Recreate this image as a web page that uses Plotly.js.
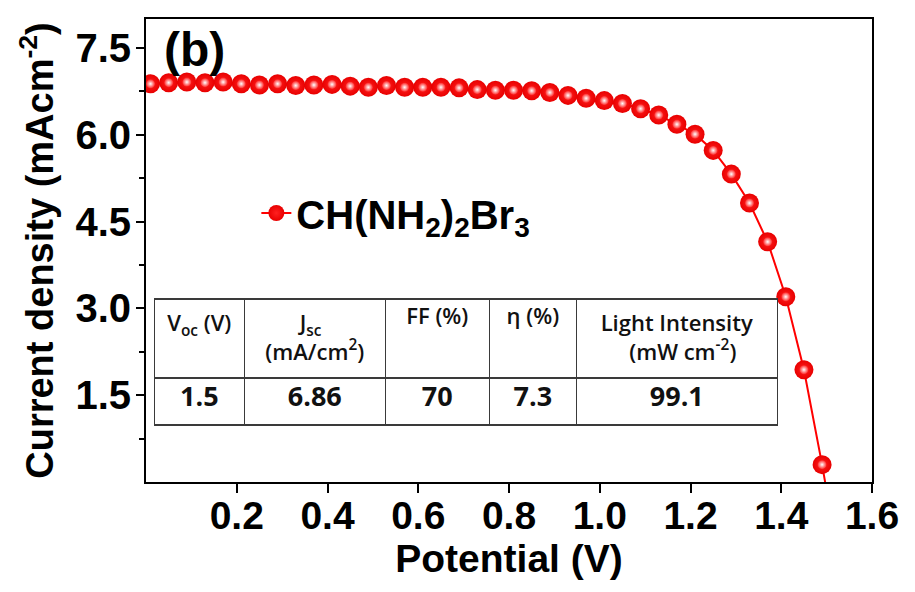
<!DOCTYPE html>
<html>
<head>
<meta charset="utf-8">
<script src="https://cdn.plot.ly/plotly-3.0.1.min.js"></script>
<style>html,body{margin:0;padding:0;background:#fff;}#chart{width:915px;height:592px;}</style>
</head>
<body>
<div id="chart"></div>
<script>
// Data
const potential = [0.01,0.05,0.09,0.13,0.17,0.21,0.25,0.29,0.33,0.37,0.41,0.45,0.49,0.53,0.57,0.61,0.65,0.69,0.73,0.77,0.81,0.85,0.89,0.93,0.97,1.01,1.05,1.09,1.13,1.17,1.21,1.25,1.29,1.33,1.37,1.41,1.45,1.49,1.53];
const currentDensity = [6.88,6.90,6.91,6.90,6.91,6.88,6.86,6.88,6.85,6.86,6.87,6.84,6.82,6.85,6.82,6.82,6.82,6.81,6.78,6.77,6.77,6.76,6.73,6.68,6.63,6.59,6.54,6.45,6.34,6.18,6.01,5.73,5.32,4.82,4.15,3.20,1.94,0.30,-1.5];
const seriesName = 'CH(NH<sub>2</sub>)<sub>2</sub>Br<sub>3</sub>';

const xTickVals = [0.2,0.4,0.6,0.8,1.0,1.2,1.4,1.6];
const xTickText = ['0.2','0.4','0.6','0.8','1.0','1.2','1.4','1.6'];
const yTickVals = [1.5,3.0,4.5,6.0,7.5];
const yTickText = ['1.5','3.0','4.5','6.0','7.5'];
const yMinorVals = [0.75,2.25,3.75,5.25,6.75];

const tableHeaderLines = [['V<sub>oc</sub> (V)'], ['J<sub>sc</sub>', '(mA/cm<sup>2</sup>)'], ['FF (%)'], ['η (%)'], ['Light Intensity', '(mW cm<sup>-2</sup>)']];
const tableValues = ['1.5','6.86','70','7.3','99.1'];
const tableColumnWidths = [90,141,104,87,201];

// visual centring of the shorter header line (the table lays lines out left-aligned)
const headerLinePad = [[0], [6, 0], [0], [0], [0, 5]];
const NBSP = '\u00a0';
const headerText = tableHeaderLines.map((lines, i) =>
  lines.map((ln, j) => NBSP.repeat(headerLinePad[i][j]) + ln).join('<br>'));

const FONT = 'Liberation Sans, Arial, sans-serif';
const TFONT = 'Open Sans, Noto Sans, sans-serif';

const traces = [
  {
    type: 'table',
    domain: {x: [0.0114, 0.870], y: [0.10, 0.395]},
    columnwidth: tableColumnWidths,
    header: {
      values: headerText,
      align: 'center',
      height: 79,
      line: {color: '#3a3a3a', width: 1.5},
      fill: {color: 'white'},
      font: {family: TFONT, size: 22, color: '#111', weight: 600}
    },
    cells: {
      values: tableValues.map(v => [v]),
      align: 'center',
      height: 47,
      line: {color: '#3a3a3a', width: 1.5},
      fill: {color: 'white'},
      font: {family: TFONT, size: 27, color: '#111', weight: 700}
    }
  },
  {
    type: 'scatter',
    mode: 'lines+markers',
    x: potential,
    y: currentDensity,
    name: seriesName,
    line: {color: '#ff0000', width: 2},
    marker: {color: '#e80000', size: 19, gradient: {type: 'radial', color: '#ff2020'}, line: {width: 0}}
  },
  {
    type: 'scatter',
    mode: 'markers',
    x: potential,
    y: currentDensity,
    showlegend: false,
    hoverinfo: 'skip',
    marker: {color: 'rgba(255,40,40,1)', size: 9, gradient: {type: 'radial', color: '#ffffff'}, line: {width: 0}}
  }
];

const layout = {
  width: 915,
  height: 592,
  margin: {l: 146, r: 43, t: 19, b: 110},
  paper_bgcolor: 'white',
  plot_bgcolor: 'white',
  font: {family: FONT, color: '#000'},
  showlegend: true,
  legend: {
    x: 0.152, y: 0.581, xanchor: 'left', yanchor: 'middle',
    bgcolor: 'rgba(0,0,0,0)',
    font: {family: FONT, size: 40, weight: 700, color: '#000'}
  },
  xaxis: {
    range: [0, 1.6],
    tickvals: xTickVals,
    ticktext: xTickText,
    ticks: 'outside', ticklen: 9, tickwidth: 2, tickcolor: '#000',
    ticklabelstandoff: -11,
    showline: true, linewidth: 2, linecolor: '#000', mirror: true,
    showgrid: false, zeroline: false,
    tickfont: {family: FONT, size: 39, weight: 700},
    title: {text: 'Potential (V)', font: {family: FONT, size: 39, weight: 700}, standoff: 0}
  },
  yaxis: {
    range: [0, 8],
    tickvals: yTickVals,
    ticktext: yTickText,
    ticks: 'outside', ticklen: 8, tickwidth: 2, tickcolor: '#000',
    ticklabelstandoff: -3,
    minor: {tickvals: yMinorVals, ticks: 'outside', ticklen: 5, tickwidth: 2, tickcolor: '#000', showgrid: false},
    showline: true, linewidth: 2, linecolor: '#000', mirror: true,
    showgrid: false, zeroline: false,
    tickfont: {family: FONT, size: 40, weight: 700},
    title: {text: 'Current density (mAcm<sup>-2</sup>)', font: {family: FONT, size: 38, weight: 700}, standoff: 10}
  },
  annotations: [
    {text: '(b)', xref: 'paper', yref: 'paper', x: 0.022, y: 0.934, xanchor: 'left', yanchor: 'middle',
     showarrow: false, font: {family: FONT, size: 48, weight: 700, color: '#000'}}
  ]
};

Plotly.newPlot('chart', traces, layout, {displayModeBar: false, staticPlot: true});
</script>
</body>
</html>
